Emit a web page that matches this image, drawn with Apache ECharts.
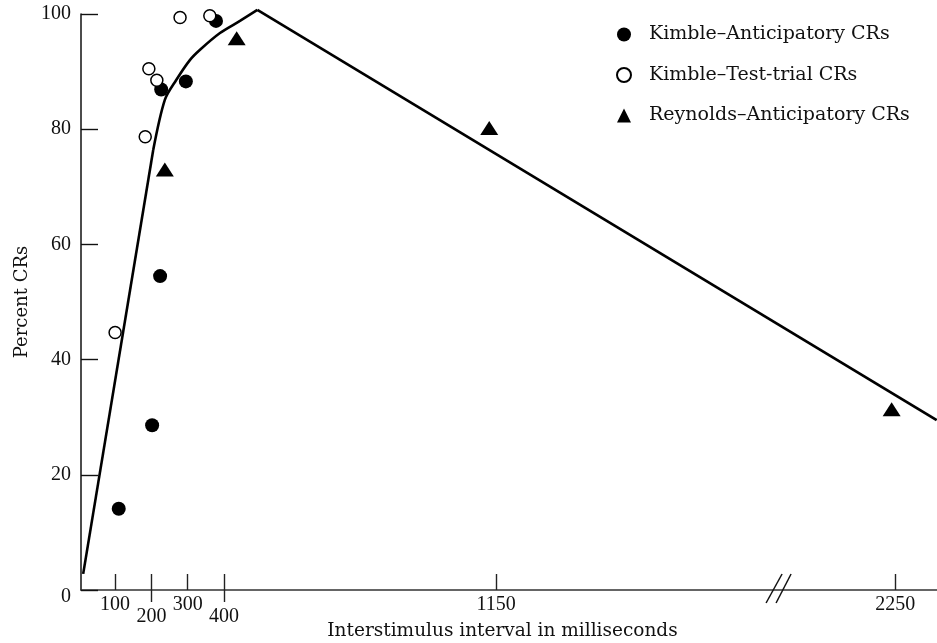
<!DOCTYPE html>
<html>
<head>
<meta charset="utf-8">
<script src="https://cdn.jsdelivr.net/npm/echarts@6/dist/echarts.min.js"></script>
<style>
  html, body { margin: 0; padding: 0; background: #fff; }
  #chart { width: 937px; height: 643px; }
</style>
</head>
<body>
<div id="chart"></div>
<script>
// Interstimulus interval (ms) tick positions on the x axis
const isiTicks = [100, 200, 300, 400, 1150, 2250];
// Ticks whose labels sit on the lower row
const lowerRowTicks = [200, 400];
const percentTicks = [0, 20, 40, 60, 80, 100];

// [interval ms, percent CRs]
const kimbleAnticipatory = [[110, 14.1], [202, 28.6], [224, 54.5], [227, 86.9], [295, 88.3], [378, 98.8]];
const kimbleTestTrial = [[100, 44.7], [183, 78.7], [193, 90.5], [215, 88.5], [279, 99.4], [361, 99.7]];
const reynoldsAnticipatory = [[237, 73.0], [435, 95.8], [1131, 80.2], [2240, 31.4]];

// Fitted function: steep rise, rounded bend, sharp peak, linear decline
const fitRise = [[12, 2.8], [205, 76.4]];
const fitBend = [[205, 76.4], [237, 85.1], [268, 88.5], [306, 92.0], [334, 93.8], [389, 96.7], [444, 98.8], [492, 100.7]];
const fitDecline = [[492, 100.7], [2364, 29.5]];

const seriesNames = ['Kimble–Anticipatory CRs', 'Kimble–Test-trial CRs', 'Reynolds–Anticipatory CRs'];

const NUM_FONT = '"Liberation Serif", "DejaVu Serif", serif';
const TEXT_FONT = '"DejaVu Serif", "Liberation Serif", serif';
const X_MIN = 6, X_MAX = 2365;

const chart = echarts.init(document.getElementById('chart'), null, { renderer: 'canvas' });

const fitLine = (data, smooth) => ({
  type: 'line', data, smooth, showSymbol: false, symbol: 'none', clip: false,
  lineStyle: { color: '#000', width: 2.6 }, silent: true, z: 2
});

chart.setOption({
  animation: false,
  backgroundColor: '#fff',
  textStyle: { fontFamily: NUM_FONT, color: '#111' },
  grid: { left: 81, right: 0, top: 14, bottom: 53, containLabel: false, outerBoundsMode: 'none' },
  legend: {
    orient: 'vertical', left: 611, top: 20, itemGap: 21.5, itemWidth: 14, itemHeight: 14,
    data: seriesNames,
    textStyle: { fontFamily: TEXT_FONT, fontSize: 19, color: '#111', padding: [0, 0, 0, 13] }
  },
  xAxis: [{
    type: 'value', min: X_MIN, max: X_MAX,
    name: 'Interstimulus interval in milliseconds', nameLocation: 'middle', nameGap: 32,
    nameMoveOverlap: false,
    nameTextStyle: { fontFamily: TEXT_FONT, fontSize: 18.5, color: '#111', padding: [0, 13, 0, 0] },
    axisLine: { show: true, onZero: false, lineStyle: { color: '#333', width: 1.6 } },
    axisTick: { show: true, inside: true, length: 16, customValues: isiTicks, lineStyle: { color: '#222', width: 1.4 } },
    axisLabel: {
      show: true, margin: 9, customValues: isiTicks, fontFamily: NUM_FONT, fontSize: 20, color: '#111', lineHeight: 12,
      formatter: v => lowerRowTicks.includes(v) ? '\n' + v : String(v)
    },
    splitLine: { show: false }
  }, {
    // second copy of the scale for the downward ticks at 200 and 400
    type: 'value', min: X_MIN, max: X_MAX, position: 'bottom',
    axisLine: { show: false },
    axisTick: { show: true, inside: false, length: 12, customValues: lowerRowTicks, lineStyle: { color: '#222', width: 1.4 } },
    axisLabel: { show: false },
    splitLine: { show: false }
  }],
  yAxis: {
    type: 'value', min: 0, max: 100, interval: 20,
    name: 'Percent CRs', nameLocation: 'middle', nameGap: 50, nameRotate: 90,
    nameMoveOverlap: false,
    nameTextStyle: { fontFamily: TEXT_FONT, fontSize: 18, color: '#111' },
    axisLine: { show: true, lineStyle: { color: '#111', width: 1.5 } },
    axisTick: { show: true, inside: true, length: 17, customValues: percentTicks, lineStyle: { color: '#111', width: 1.4 } },
    axisLabel: {
      margin: 10, fontFamily: NUM_FONT, fontSize: 20, color: '#111', customValues: percentTicks,
      formatter: v => v === 0 ? '{z|0}' : String(v),
      rich: { z: { fontFamily: NUM_FONT, fontSize: 20, color: '#111', padding: [14, 0, 0, 0] } }
    },
    splitLine: { show: false }
  },
  series: [
    fitLine(fitRise, false),
    fitLine(fitBend, 0.3),
    fitLine(fitDecline, false),
    {
      name: seriesNames[0], type: 'scatter', data: kimbleAnticipatory, clip: false,
      symbol: 'circle', symbolSize: 14,
      itemStyle: { color: '#000', opacity: 1 }, z: 3
    },
    {
      name: seriesNames[1], type: 'scatter', data: kimbleTestTrial, clip: false,
      symbol: 'circle', symbolSize: 12,
      itemStyle: { color: '#fff', borderColor: '#000', borderWidth: 1.5, opacity: 1 }, z: 4
    },
    {
      name: seriesNames[2], type: 'scatter', data: reynoldsAnticipatory, clip: false,
      symbol: 'triangle', symbolSize: [18, 14],
      itemStyle: { color: '#000', opacity: 1 }, z: 3
    }
  ]
});

// Axis break marks "//" drawn on the x axis between 1150 and 2250
const breakAt = 1927;
const bx = chart.convertToPixel({ xAxisIndex: 0 }, breakAt);
const by = chart.convertToPixel({ yAxisIndex: 0 }, 0);
chart.setOption({
  graphic: [
    { type: 'line', shape: { x1: bx - 12, y1: by + 13, x2: bx + 4, y2: by - 16 }, style: { stroke: '#111', lineWidth: 1.5 }, z: 10 },
    { type: 'line', shape: { x1: bx - 2, y1: by + 13, x2: bx + 13, y2: by - 16 }, style: { stroke: '#111', lineWidth: 1.5 }, z: 10 }
  ]
});
</script>
</body>
</html>
